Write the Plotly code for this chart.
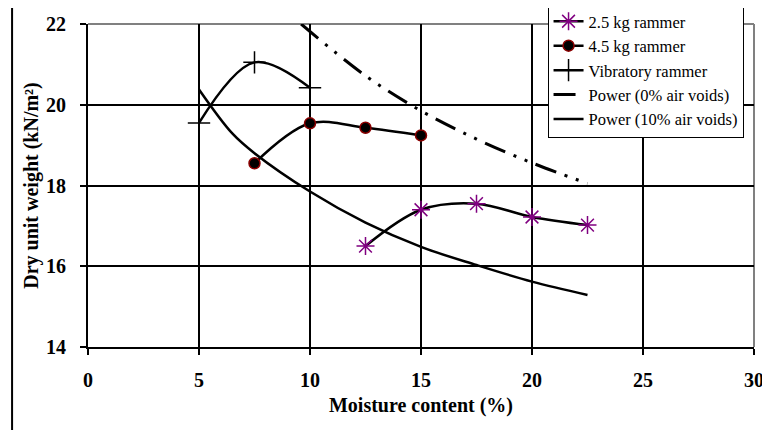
import plotly.graph_objects as go

# Data
x_25 = [12.5, 15, 17.5, 20, 22.5]
y_25 = [16.5, 17.4, 17.55, 17.22, 17.02]

x_45 = [7.5, 10, 12.5, 15]
y_45 = [18.55, 19.54, 19.43, 19.24]

x_vib = [5, 7.5, 10]
y_vib = [19.55, 21.05, 20.42]

x_p0 = [9.6, 12.5, 15, 17.5, 20, 22.5]
y_p0 = [22.0, 20.72, 19.85, 19.15, 18.56, 18.05]

x_p10 = [5, 6.5, 7.5, 10, 12.5, 15, 17.5, 20, 22.5]
y_p10 = [20.38, 19.29, 18.8, 17.85, 17.08, 16.48, 16.03, 15.62, 15.29]

x_ticks = [0, 5, 10, 15, 20, 25, 30]
y_ticks = [14, 16, 18, 20, 22]

SERIF = "Liberation Serif, Times New Roman, DejaVu Serif, serif"

fig = go.Figure()
fig.add_trace(go.Scatter(
    x=x_25, y=y_25, name="2.5 kg rammer", mode="lines+markers",
    line=dict(color="black", width=2.5, shape="spline"),
    marker=dict(symbol="asterisk-open", size=15, color="#800080",
                line=dict(color="#800080", width=1.5))))
fig.add_trace(go.Scatter(
    x=x_45, y=y_45, name="4.5 kg rammer", mode="lines+markers",
    line=dict(color="black", width=2.5, shape="spline"),
    marker=dict(symbol="circle", size=11, color="black",
                line=dict(color="#8B0000", width=1.5))))
fig.add_trace(go.Scatter(
    x=x_vib, y=y_vib, name="Vibratory rammer", mode="lines+markers",
    line=dict(color="black", width=2.5, shape="spline"),
    marker=dict(symbol="cross-thin-open", size=16, color="black",
                line=dict(color="black", width=1.5))))
fig.add_trace(go.Scatter(
    x=x_p0, y=y_p0, name="Power (0% air voids)", mode="lines",
    line=dict(color="black", width=3, shape="spline",
              dash="22px,9px,3px,9px,3px,9px")))
fig.add_trace(go.Scatter(
    x=x_p10, y=y_p10, name="Power (10% air voids)", mode="lines",
    line=dict(color="black", width=2.5, shape="spline")))

# plot frame: top/right in gray, outer chart border in black
shapes = [
    dict(type="line", xref="paper", yref="paper", x0=0, x1=1, y0=1, y1=1,
         line=dict(color="#808080", width=2), layer="below"),
    dict(type="line", xref="paper", yref="paper", x0=1, x1=1, y0=0, y1=1,
         line=dict(color="#808080", width=2), layer="below"),
    dict(type="rect", xref="paper", yref="paper", x0=-0.114, x1=1.2, y0=-0.5, y1=1.0536,
         line=dict(color="black", width=2), layer="below"),
]

tick_font = dict(family=SERIF, size=20, color="black", weight="bold")
title_font = dict(family=SERIF, size=20, color="black", weight="bold")

fig.update_layout(
    width=762, height=422,
    margin=dict(l=80, r=16, t=16, b=83, autoexpand=False),
    paper_bgcolor="white", plot_bgcolor="white",
    font=dict(family=SERIF, color="black"),
    shapes=shapes,
    showlegend=True,
    legend=dict(x=0.69, y=1.065, xanchor="left", yanchor="top",
                bgcolor="white", bordercolor="black", borderwidth=1,
                font=dict(family=SERIF, size=16.5, color="black"),
                tracegroupgap=0, itemwidth=30),
    xaxis=dict(range=[0, 30], tickvals=x_ticks,
               ticktext=["<b>%d</b>" % v for v in x_ticks],
               showgrid=True, gridcolor="black", gridwidth=1.5,
               showline=True, linecolor="black", linewidth=2,
               ticks="outside", ticklen=6, tickcolor="black", tickwidth=1.5,
               ticklabelstandoff=8,
               zeroline=False, tickfont=tick_font,
               title=dict(text="<b>Moisture content (%)</b>", standoff=8,
                          font=title_font)),
    yaxis=dict(range=[14, 22], tickvals=y_ticks,
               ticktext=["<b>%d</b>" % v for v in y_ticks],
               showgrid=True, gridcolor="black", gridwidth=1.5,
               showline=True, linecolor="black", linewidth=2,
               ticks="outside", ticklen=6, tickcolor="black", tickwidth=1.5,
               ticklabelstandoff=10,
               zeroline=False, tickfont=tick_font,
               title=dict(text="<b>Dry unit weight (kN/m²)</b>", standoff=2,
                          font=title_font)),
)

fig.write_html("out.html")
